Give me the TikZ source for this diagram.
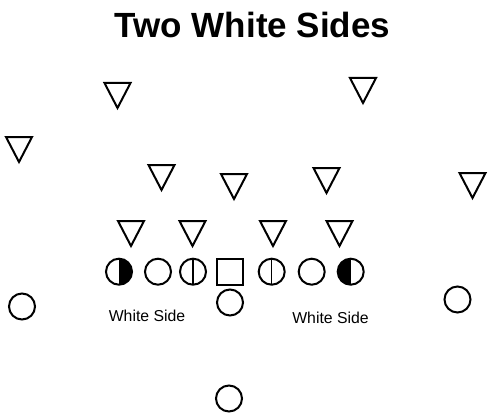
\documentclass[tikz,border=0pt]{standalone}
\usepackage{fontspec}
\setmainfont{Liberation Sans}
\usepackage{tikz}
\tikzstyle{player}=[circle,draw,line width=2pt,minimum size=26pt,inner sep=0pt]
\tikzstyle{snapper}=[rectangle,draw,line width=2pt,minimum size=26pt,inner sep=0pt]
\tikzstyle{defender}=[line width=2pt]
\tikzstyle{blackright}=[path picture={\fill (path picture bounding box.north) rectangle (path picture bounding box.south east);}]
\tikzstyle{blackleft}=[path picture={\fill (path picture bounding box.north west) rectangle (path picture bounding box.south);}]
\tikzstyle{splitline}=[path picture={\draw[line width=1.3pt] (path picture bounding box.north) -- (path picture bounding box.south);}]
\tikzstyle{sidelabel}=[inner sep=0pt,anchor=base,font=\fontsize{15.8}{18}\selectfont]
\newcommand{\defender}[2]{\draw[defender] (#1-13,#2+1) -- (#1+13,#2+1) -- (#1,#2+26) -- cycle;}

\begin{document}
\begin{tikzpicture}[x=1pt,y=-1pt]
    \useasboundingbox (0,0) rectangle (492,417);
    \node[inner sep=0pt,anchor=base,font=\fontsize{35}{40}\selectfont\bfseries]
    (title) at (252.5,37.5) {Two White Sides};
    % defense
    \defender{117.5}{82}
    \defender{19}{136}
    \defender{161.5}{164}
    \defender{234}{173}
    \defender{363}{77}
    \defender{326.5}{167}
    \defender{472.5}{172}
    \defender{131}{220}
    \defender{192.5}{220}
    \defender{273}{220}
    \defender{339.5}{220}
    % offense
    \node[player,blackright] (lt) at (119,271.7) {};
    \node[player] (lg) at (158,271.7) {};
    \node[player,splitline] (lte) at (193,271.7) {};
    \node[snapper] (c) at (230,272) {};
    \node[player,splitline] (rte) at (271.7,271.7) {};
    \node[player] (rg) at (311.7,271.7) {};
    \node[player,blackleft] (rt) at (350.7,271.7) {};
    \node[player] (qb) at (230,302.5) {};
    \node[player] (wl) at (22,306.5) {};
    \node[player] (wr) at (457.5,299.5) {};
    \node[player] (rb) at (229,398.5) {};
    \node[sidelabel] (leftside) at (147,321) {White Side};
    \node[sidelabel] (rightside) at (330.5,323.5) {White Side};
\end{tikzpicture}
\end{document}
